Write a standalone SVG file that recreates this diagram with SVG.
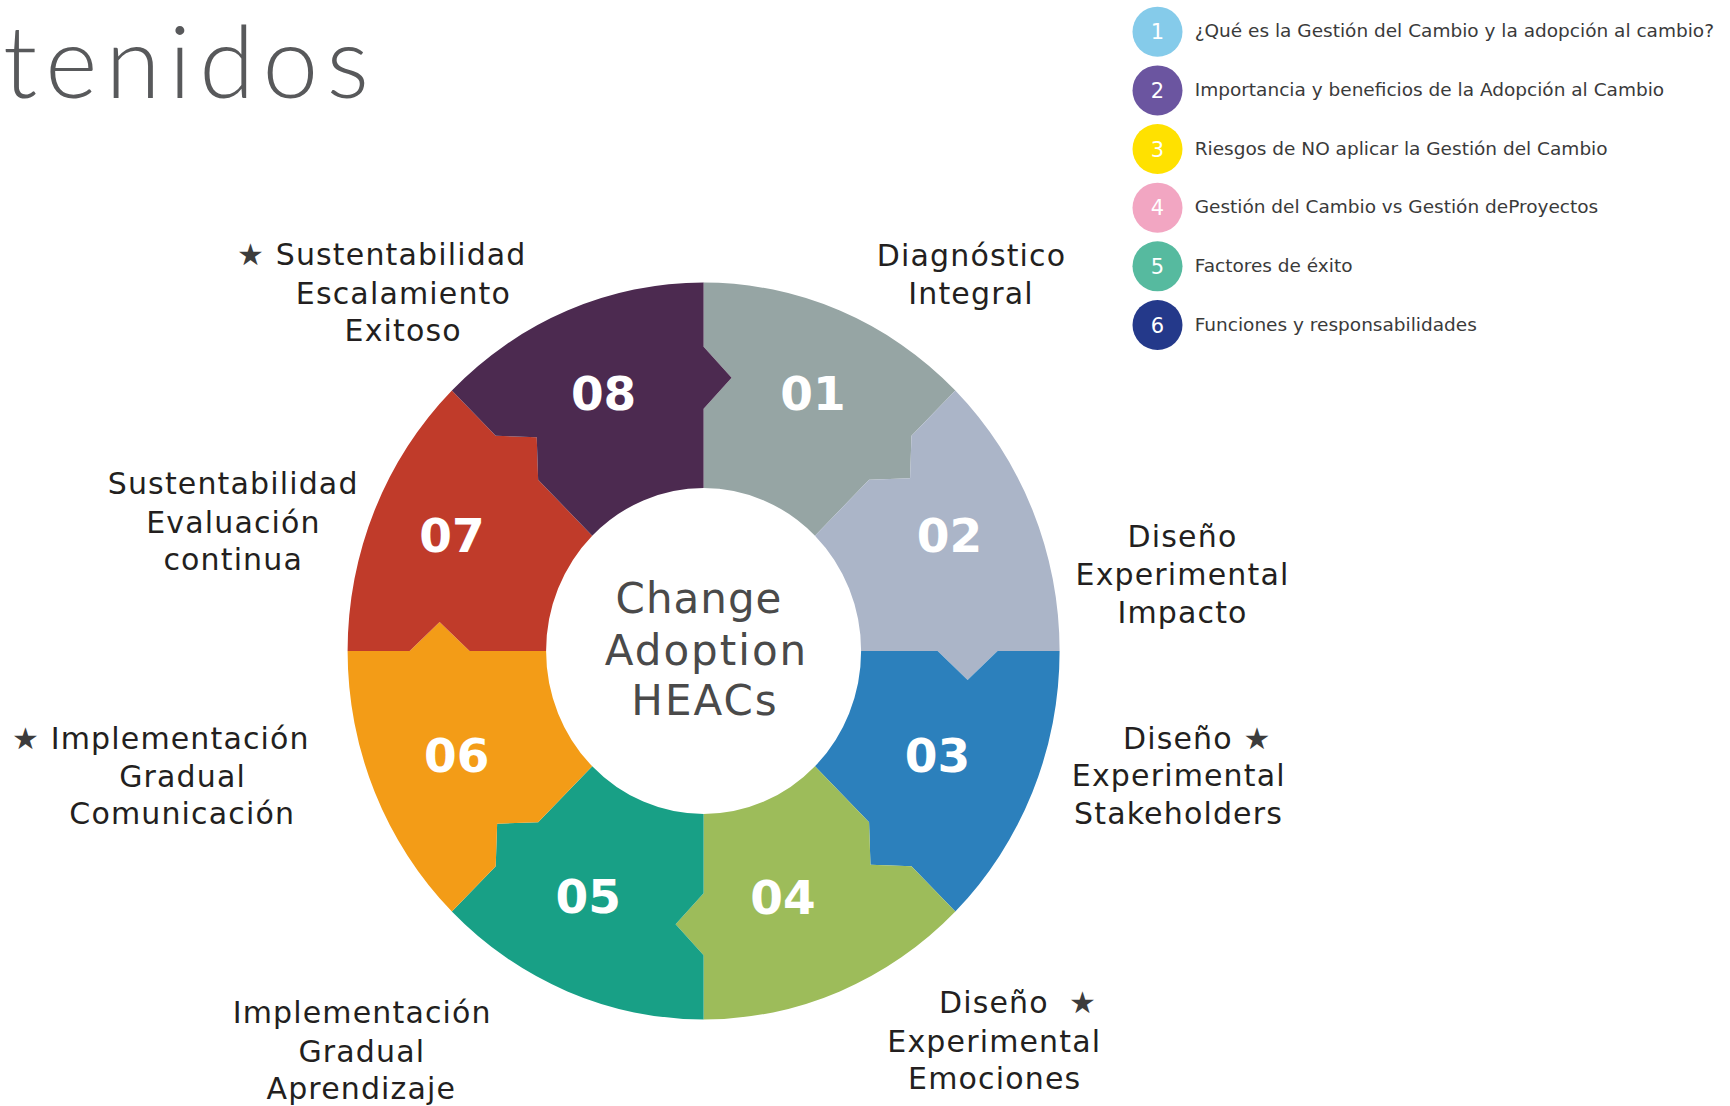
<svg xmlns="http://www.w3.org/2000/svg" width="1730" height="1106" viewBox="0 0 1730 1106">
<style>
.num{font-family:"DejaVu Sans",sans-serif;font-weight:bold;font-size:47px;fill:#fff;text-anchor:middle}
.lbl{font-family:"DejaVu Sans",sans-serif;font-size:30px;letter-spacing:1.15px;fill:#231f20;text-anchor:middle}
.st{text-anchor:start}
.star{fill:#3c3c3c}
.ctr{font-family:"DejaVu Sans",sans-serif;font-size:42px;fill:#4a4a4a;text-anchor:middle;letter-spacing:2px}
.leg{font-family:"DejaVu Sans",sans-serif;font-size:18.5px;fill:#3a3a3a}
.legn{font-family:"DejaVu Sans",sans-serif;font-size:21px;fill:#fff;text-anchor:middle}
.title{font-family:Lato,"Open Sans",sans-serif;font-weight:300;font-size:100px;fill:#58595b}
</style>
<rect width="1730" height="1106" fill="#ffffff"/>
<text class="title" x="3" y="98" textLength="366" lengthAdjust="spacing">tenidos</text>

<g id="wheel" transform="translate(703.6,651) scale(1,1.035)">
<path id="seg01" fill="#96a5a4" d="M0,-157.5 L0,-234 L28,-264 L0,-294 L0,-356 A356,356 0 0 1 251.73,-251.73 L207.89,-207.89 L206.47,-166.87 L165.46,-165.46 L111.37,-111.37 A157.5,157.5 0 0 0 0,-157.5 Z"/>
<path id="seg02" fill="#abb5c8" d="M111.37,-111.37 L165.46,-165.46 L206.47,-166.87 L207.89,-207.89 L251.73,-251.73 A356,356 0 0 1 356,0 L294,0 L264,28 L234,0 L157.5,0 A157.5,157.5 0 0 0 111.37,-111.37 Z"/>
<path id="seg03" fill="#2c80bc" d="M157.5,0 L234,0 L264,28 L294,0 L356,0 A356,356 0 0 1 251.73,251.73 L207.89,207.89 L166.87,206.47 L165.46,165.46 L111.37,111.37 A157.5,157.5 0 0 0 157.5,0 Z"/>
<path id="seg04" fill="#9dbc5a" d="M111.37,111.37 L165.46,165.46 L166.87,206.47 L207.89,207.89 L251.73,251.73 A356,356 0 0 1 0,356 L0,294 L-28,264 L0,234 L0,157.5 A157.5,157.5 0 0 0 111.37,111.37 Z"/>
<path id="seg05" fill="#18a086" d="M0,157.5 L0,234 L-28,264 L0,294 L0,356 A356,356 0 0 1 -251.73,251.73 L-207.89,207.89 L-206.47,166.87 L-165.46,165.46 L-111.37,111.37 A157.5,157.5 0 0 0 0,157.5 Z"/>
<path id="seg06" fill="#f39c17" d="M-111.37,111.37 L-165.46,165.46 L-206.47,166.87 L-207.89,207.89 L-251.73,251.73 A356,356 0 0 1 -356,0 L-294,0 L-264,-28 L-234,0 L-157.5,0 A157.5,157.5 0 0 0 -111.37,111.37 Z"/>
<path id="seg07" fill="#c03b2a" d="M-157.5,0 L-234,0 L-264,-28 L-294,0 L-356,0 A356,356 0 0 1 -251.73,-251.73 L-207.89,-207.89 L-166.87,-206.47 L-165.46,-165.46 L-111.37,-111.37 A157.5,157.5 0 0 0 -157.5,0 Z"/>
<path id="seg08" fill="#4c2a50" d="M-111.37,-111.37 L-165.46,-165.46 L-166.87,-206.47 L-207.89,-207.89 L-251.73,-251.73 A356,356 0 0 1 0,-356 L0,-294 L28,-264 L0,-234 L0,-157.5 A157.5,157.5 0 0 0 -111.37,-111.37 Z"/>
</g>

<g id="center">
<text class="ctr" x="699" y="613" style="letter-spacing:1px">Change</text>
<text class="ctr" x="706.5" y="664.5">Adoption</text>
<text class="ctr" x="705" y="715">HEACs</text>
</g>

<g id="node01">
<text class="num" x="813" y="410">01</text>
<text class="lbl" x="971.5" y="265.5">Diagnóstico</text>
<text class="lbl" x="971" y="303.5">Integral</text>
</g>
<g id="node02">
<text class="num" x="949.4" y="551.7">02</text>
<text class="lbl" x="1182.5" y="547">Diseño</text>
<text class="lbl" x="1182.5" y="585">Experimental</text>
<text class="lbl" x="1182.5" y="623">Impacto</text>
</g>
<g id="node03">
<text class="num" x="937.5" y="771.7">03</text>
<text class="lbl st" x="1123" y="748.5">Diseño <tspan class="star">★</tspan></text>
<text class="lbl" x="1178.8" y="786">Experimental</text>
<text class="lbl" x="1178.5" y="823.5">Stakeholders</text>
</g>
<g id="node04">
<text class="num" x="783" y="914">04</text>
<text class="lbl st" x="939" y="1012.5">Diseño <tspan class="star" x="1069">★</tspan></text>
<text class="lbl" x="994.3" y="1051.5">Experimental</text>
<text class="lbl" x="994.7" y="1088.5">Emociones</text>
</g>
<g id="node05">
<text class="num" x="588.3" y="913.3">05</text>
<text class="lbl" x="362.2" y="1023">Implementación</text>
<text class="lbl" x="361.8" y="1061.5">Gradual</text>
<text class="lbl" x="361.3" y="1099">Aprendizaje</text>
</g>
<g id="node06">
<text class="num" x="456.8" y="771.7">06</text>
<text class="lbl st" x="12" y="748.5"><tspan class="star">★</tspan> Implementación</text>
<text class="lbl" x="182.6" y="786.5">Gradual</text>
<text class="lbl" x="182.2" y="824">Comunicación</text>
</g>
<g id="node07">
<text class="num" x="452" y="551.7">07</text>
<text class="lbl" x="233.2" y="494">Sustentabilidad</text>
<text class="lbl" x="233.5" y="532.5">Evaluación</text>
<text class="lbl" x="233.2" y="570">continua</text>
</g>
<g id="node08">
<text class="num" x="603.6" y="410">08</text>
<text class="lbl st" x="237" y="265"><tspan class="star">★</tspan> Sustentabilidad</text>
<text class="lbl" x="403.4" y="304">Escalamiento</text>
<text class="lbl" x="403.2" y="341">Exitoso</text>
</g>

<g id="legend">
<g id="leg1"><circle cx="1157.5" cy="31.7" r="25" fill="#85cbea"/><text class="legn" x="1157.5" y="39.2">1</text><text class="leg" x="1194.7" y="37.2">¿Qué es la Gestión del Cambio y la adopción al cambio?</text></g>
<g id="leg2"><circle cx="1157.5" cy="90.4" r="25" fill="#6b55a0"/><text class="legn" x="1157.5" y="97.9">2</text><text class="leg" x="1194.7" y="95.9">Importancia y beneficios de la Adopción al Cambio</text></g>
<g id="leg3"><circle cx="1157.5" cy="149" r="25" fill="#ffe100"/><text class="legn" x="1157.5" y="156.5">3</text><text class="leg" x="1194.7" y="154.5">Riesgos de NO aplicar la Gestión del Cambio</text></g>
<g id="leg4"><circle cx="1157.5" cy="207.7" r="25" fill="#f2a6c2"/><text class="legn" x="1157.5" y="215.2">4</text><text class="leg" x="1194.7" y="213.2">Gestión del Cambio vs Gestión deProyectos</text></g>
<g id="leg5"><circle cx="1157.5" cy="266.3" r="25" fill="#56ba9f"/><text class="legn" x="1157.5" y="273.8">5</text><text class="leg" x="1194.7" y="271.8">Factores de éxito</text></g>
<g id="leg6"><circle cx="1157.5" cy="325" r="25" fill="#24398a"/><text class="legn" x="1157.5" y="332.5">6</text><text class="leg" x="1194.7" y="330.5">Funciones y responsabilidades</text></g>
</g>
</svg>
